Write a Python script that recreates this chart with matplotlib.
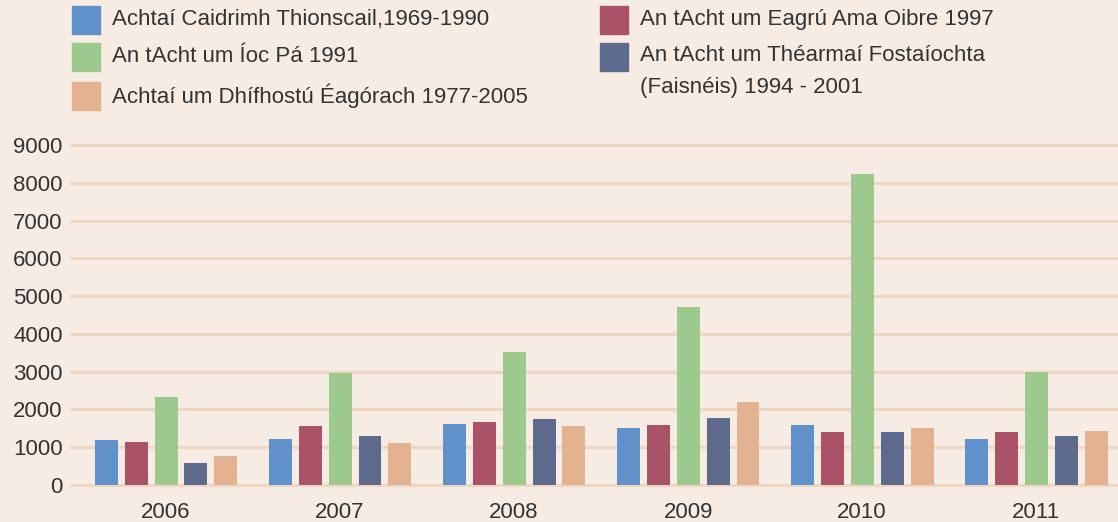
import matplotlib.pyplot as plt
import numpy as np
from matplotlib.patches import Rectangle

plt.rcParams['font.family'] = ['Liberation Sans', 'DejaVu Sans']

years = ["2006", "2007", "2008", "2009", "2010", "2011"]
series_names = [
    "Achtaí Caidrimh Thionscail,1969-1990",
    "An tAcht um Eagrú Ama Oibre 1997",
    "An tAcht um Íoc Pá 1991",
    "An tAcht um Théarmaí Fostaíochta\n(Faisnéis) 1994 - 2001",
    "Achtaí um Dhífhostú Éagórach 1977-2005",
]
caidrimh = [1190, 1220, 1610, 1510, 1600, 1220]
eagru_ama = [1140, 1560, 1670, 1590, 1390, 1390]
ioc_pa = [2330, 2960, 3520, 4710, 8220, 3000]
tearmai = [580, 1300, 1750, 1770, 1410, 1310]
dhifhostu = [770, 1110, 1560, 2200, 1510, 1440]
values = [caidrimh, eagru_ama, ioc_pa, tearmai, dhifhostu]
colors = ["#6091cb", "#aa5268", "#9dc98f", "#5e6a8c", "#e2b291"]

bg = "#f7ece3"
grid_col = "#efd6c3"
text_col = "#333333"

fig = plt.figure(figsize=(11.18, 5.22), dpi=100, facecolor=bg)
ax = fig.add_axes([0.0635, 0.0709, 0.9365, 0.6513], facecolor=bg)

x = np.arange(len(years))
step = 0.172
width = 0.132
for i, (vals, col) in enumerate(zip(values, colors)):
    ax.bar(x + (i - 2) * step, vals, width=width, color=col, zorder=3)

ax.set_xlim(-0.546, 5.47)
ax.set_ylim(0, 9000)
ax.set_yticks(range(0, 9001, 1000))
ax.set_xticks(x)
ax.set_xticklabels(years)
ax.yaxis.grid(True, color=grid_col, linewidth=2.2, zorder=1)
for gl in ax.get_ygridlines():
    gl.set_clip_on(False)
ax.xaxis.grid(False)
for s in ax.spines.values():
    s.set_visible(False)
ax.tick_params(axis='both', length=0, labelsize=16, colors=text_col)
ax.tick_params(axis='y', pad=6)
ax.tick_params(axis='x', pad=12)

# legend, laid out as in the original (two columns)
W, H = 1118, 522
legend_pos = [
    (72, 20),   # caidrimh
    (600, 20),  # eagru ama
    (72, 57),   # ioc pa
    (600, 57),  # tearmai
    (72, 96),   # dhifhostu
]
for (px, py), name, col in zip(legend_pos, series_names, colors):
    fig.patches.append(Rectangle((px / W, 1 - (py + 14) / H), 28 / W, 28 / H,
                                 transform=fig.transFigure, color=col))
    if "\n" in name:
        fig.text((px + 40) / W, 1 - (py - 12) / H, name, fontsize=16,
                 color=text_col, va='top', linespacing=1.7)
    else:
        fig.text((px + 40) / W, 1 - py / H, name, fontsize=16,
                 color=text_col, va='center')

fig.savefig("out.png", dpi=100, facecolor=bg)
